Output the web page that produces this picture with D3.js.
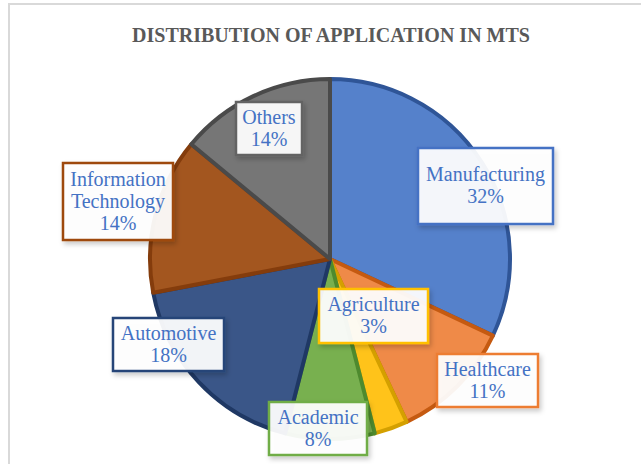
<!DOCTYPE html>
<html>
<head>
<meta charset="utf-8">
<script src="https://cdn.jsdelivr.net/npm/d3@7"></script>
<style>
  body { margin: 0; background: #fff; }
  svg { display: block; }
</style>
</head>
<body>
<div id="chart"></div>
<script>
// data, clockwise from 12 o'clock
const categories = ["Manufacturing", "Healthcare", "Agriculture", "Academic", "Automotive", "Information Technology", "Others"];
const shares = [32, 11, 3, 8, 18, 14, 14];
const fills = ["#5581cb", "#ef8a48", "#ffc31a", "#78b04f", "#3a5688", "#a3561f", "#767676"];
const strokes = ["#2f5597", "#c55a11", "#d4a000", "#4e8a2e", "#1f3864", "#843c0c", "#4a4a4a"];
const boxStrokes = ["#4472c4", "#ed7d31", "#ffc000", "#70ad47", "#264478", "#9e480e", "#636363"];
// label lines (text wraps like in the original)
const labelLines = [["Manufacturing"], ["Healthcare"], ["Agriculture"], ["Academic"], ["Automotive"], ["Information", "Technology"], ["Others"]];
// label boxes [x, y, w, h], placed by hand like the original
const labelBoxes = [[418, 148, 135, 76], [437, 354, 101, 53], [319, 289, 109, 54], [269, 402, 98, 53],
                    [113, 318, 111, 53], [63, 163, 110, 77], [236, 102, 66, 53]];

const width = 641, height = 464;
const cx = 330, cy = 259, radius = 180;
const serif = "'Liberation Serif', 'Times New Roman', serif";

const svg = d3.select("#chart").append("svg")
  .attr("width", width)
  .attr("height", height);

const defs = svg.append("defs");
const shadow = defs.append("filter").attr("id", "shadow")
  .attr("x", "-20%").attr("y", "-20%").attr("width", "150%").attr("height", "160%");
shadow.append("feDropShadow")
  .attr("dx", 2).attr("dy", 3).attr("stdDeviation", 2.5)
  .attr("flood-color", "#000").attr("flood-opacity", 0.22);

// frame
svg.append("path")
  .attr("d", `M9,${height} L9,4 L${width},4`)
  .attr("fill", "none")
  .attr("stroke", "#d9d9d9")
  .attr("stroke-width", 2);

// title
svg.append("text")
  .attr("x", 331)
  .attr("y", 42)
  .attr("text-anchor", "middle")
  .attr("font-family", serif)
  .attr("font-weight", "bold")
  .attr("font-size", "20px")
  .attr("fill", "#595959")
  .text("DISTRIBUTION OF APPLICATION IN MTS");

const pie = d3.pie().sort(null).value(d => d);
const arcs = pie(shares);
const arc = d3.arc().innerRadius(0).outerRadius(radius);

const g = svg.append("g").attr("transform", `translate(${cx},${cy})`);

g.selectAll("path.slice")
  .data(arcs)
  .enter()
  .append("path")
  .attr("class", "slice")
  .attr("d", arc)
  .attr("fill", (d, i) => fills[i])
  .attr("stroke", (d, i) => strokes[i])
  .attr("stroke-width", 4)
  .attr("stroke-linejoin", "round");

// labels
const lineH = 22;
categories.forEach((c, i) => {
  const lines = labelLines[i].concat([shares[i] + "%"]);
  const [bx, by, bw, bh] = labelBoxes[i];
  const lg = svg.append("g");
  lg.append("rect")
    .attr("x", bx)
    .attr("y", by)
    .attr("width", bw)
    .attr("height", bh)
    .attr("fill", "#ffffff")
    .attr("fill-opacity", 0.93)
    .attr("stroke", boxStrokes[i])
    .attr("stroke-width", 2.5)
    .attr("filter", "url(#shadow)");
  const t = lg.append("text")
    .attr("text-anchor", "middle")
    .attr("font-family", serif)
    .attr("font-size", "20px")
    .attr("fill", "#4472c4");
  const first = by + bh / 2 - (lines.length * lineH) / 2 + 17;
  lines.forEach((s, k) => {
    t.append("tspan")
      .attr("x", bx + bw / 2)
      .attr("y", first + k * lineH)
      .text(s);
  });
});
</script>
</body>
</html>
